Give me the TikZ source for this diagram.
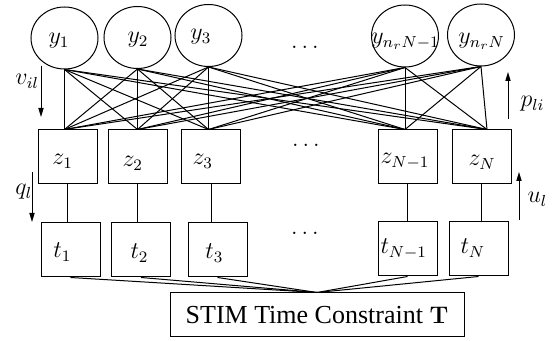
\documentclass[tikz,border=0pt]{standalone}
\usepackage[no-math]{fontspec}
\setmainfont{Liberation Serif}
\usetikzlibrary{shapes.geometric,arrows.meta,calc}
\begin{document}
\begin{tikzpicture}[x=0.5pt,y=-0.5pt,line width=0.5pt,
  ynode/.style={draw,ellipse,minimum width=33.5pt,minimum height=31pt,inner sep=0pt},
  boxnode/.style={draw,rectangle,minimum width=29.5pt,minimum height=27pt,inner sep=0pt},
  lab/.style={anchor=base west,inner sep=0pt,font=\fontsize{12}{14}\selectfont},
  dotsnode/.style={inner sep=0pt,font=\fontsize{12}{14}\selectfont},
  arr/.style={-{Triangle[length=4.5pt,width=2.6pt]}}]
\useasboundingbox (0,0) rectangle (553,341);
% y ellipses
\node[ynode] (y1) at (64.5,38) {};
\node[ynode] (y2) at (137.5,37.5) {};
\node[ynode] (y3) at (208.5,35.5) {};
\node[ynode] (y4) at (405,36) {};
\node[ynode] (y5) at (481,35) {};
% z boxes
\node[boxnode] (z1) at (67.5,157) {};
\node[boxnode] (z2) at (137.5,157) {};
\node[boxnode] (z3) at (211,157) {};
\node[boxnode] (z4) at (407.5,157) {};
\node[boxnode] (z5) at (481.5,157) {};
% t boxes
\node[boxnode] (t1) at (70.5,250) {};
\node[boxnode] (t2) at (141,250) {};
\node[boxnode] (t3) at (217.5,250) {};
\node[boxnode] (t4) at (407.5,249) {};
\node[boxnode] (t5) at (478.5,249) {};
% STIM box
\node[draw,minimum width=147pt,minimum height=22pt,inner sep=0pt,
      font=\fontsize{13}{15}\selectfont] (stim) at (317,315) {STIM Time Constraint $\mathbf{T}$};
% labels
\node[lab] (ly1) at (48,44) {$y_1$};
\node[lab] (ly2) at (127,43) {$y_2$};
\node[lab] (ly3) at (190,40) {$y_3$};
\node[lab] (ly4) at (371,44) {$y_{n_rN-1}$};
\node[lab] (ly5) at (458,44) {$y_{n_rN}$};
\node[lab] (lz1) at (52,165) {$z_1$};
\node[lab] (lz2) at (122,166.5) {$z_2$};
\node[lab] (lz3) at (192,165) {$z_3$};
\node[lab] (lz4) at (380,164) {$z_{N-1}$};
\node[lab] (lz5) at (468,166) {$z_N$};
\node[lab] (lt1) at (53,258) {$t_1$};
\node[lab] (lt2) at (130,259) {$t_2$};
\node[lab] (lt3) at (205,259) {$t_3$};
\node[lab] (lt4) at (380,254) {$t_{N-1}$};
\node[lab] (lt5) at (460,254) {$t_N$};
% dots
\node[dotsnode] (d1) at (305,47) {$\ldots$};
\node[dotsnode] (d2) at (306,145) {$\ldots$};
\node[dotsnode] (d3) at (305,233) {$\ldots$};
% connection points on z tops
\coordinate (zt1) at (y1.south |- z1.north);
\coordinate (zt2) at (y2.south |- z2.north);
\coordinate (zt3) at (y3.south |- z3.north);
\coordinate (zt4) at (y4.south |- z4.north);
\coordinate (zt5) at ([xshift=2.75pt]z5.north);
\foreach \i in {1,...,5}{
  \foreach \j in {1,...,5}{
    \draw (y\i.south) -- (zt\j);
  }
  \draw (z\i.south) -- (z\i.south |- t\i.north);
  \draw (t\i.south) -- (stim.north);
}
% side arrows
\coordinate (va) at (41,66); \coordinate (vb) at (41,117);
\draw[arr] (va) -- (vb);
\node[lab] (lv) at (15,85) {$v_{il}$};
\coordinate (qa) at (32,172); \coordinate (qb) at (32,222);
\draw[arr] (qa) -- (qb);
\node[lab] (lq) at (15,195) {$q_l$};
\coordinate (pa) at (508,119); \coordinate (pb) at (508,72);
\draw[arr] (pa) -- (pb);
\node[lab] (lp) at (520,107) {$p_{li}$};
\coordinate (ua) at (519,220); \coordinate (ub) at (519,172);
\draw[arr] (ua) -- (ub);
\node[lab] (lu) at (527,203) {$u_l$};
\end{tikzpicture}
\end{document}
